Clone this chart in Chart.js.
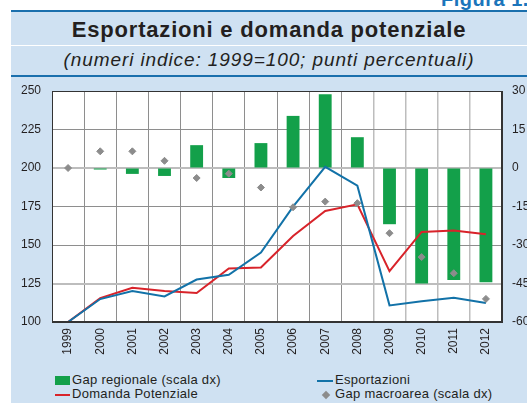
<!DOCTYPE html>
<html lang="it">
<head>
    <meta charset="UTF-8">
    <title>Esportazioni e domanda potenziale</title>
    <script src="https://cdn.jsdelivr.net/npm/chart.js@4.4.1/dist/chart.umd.min.js"></script>
    <style>
        html, body { margin: 0; padding: 0; background: #ffffff; }
        body { width: 527px; height: 403px; overflow: hidden; position: relative; font-family: "Liberation Sans", Arial, sans-serif; color: #231f20; }
        .figura { position: absolute; left: 441px; top: -12px; font-size: 20px; font-weight: bold; color: #1b75bb; white-space: nowrap; letter-spacing: 0.5px; }
        .panel { position: absolute; left: 11px; top: 10px; width: 520px; height: 400px; background: #cfe1f2; border-top: 2px solid #1a6fad; }
        .title { position: absolute; left: 0; top: 0; width: 516px; height: 33px; text-align: center; font-size: 22px; letter-spacing: 0.8px; font-weight: bold; line-height: 36px; border-bottom: 1px solid #ffffff; }
        .subtitle { position: absolute; left: 0; top: 34px; width: 516px; height: 29px; text-align: center; font-size: 19px; letter-spacing: 0.9px; font-style: italic; line-height: 28px; border-bottom: 2px solid #1a6fad; }
        .chartbox { position: absolute; left: 11px; top: 78px; width: 560px; height: 292px; }
        .legend { position: absolute; font-size: 13px; letter-spacing: 0.3px; line-height: 15px; white-space: nowrap; }
        .sw { display: inline-block; vertical-align: middle; margin-right: 2px; }
    </style>
</head>
<body>
    <div class="figura">Figura 1.</div>
    <div class="panel">
        <div class="title">Esportazioni e domanda potenziale</div>
        <div class="subtitle">(numeri indice: 1999=100; punti percentuali)</div>
    </div>
    <div class="chartbox"><canvas id="chart" width="560" height="292"></canvas></div>

    <div class="legend" style="left: 55px; top: 372px;">
        <span class="sw" style="width: 15px; height: 9px; background: #13a04a;"></span>Gap regionale (scala dx)
    </div>
    <div class="legend" style="left: 55px; top: 386px;">
        <span class="sw" style="width: 15px; height: 2px; background: #d8232a;"></span>Domanda Potenziale
    </div>
    <div class="legend" style="left: 317px; top: 372px;">
        <span class="sw" style="width: 16px; height: 2px; background: #1272a8;"></span>Esportazioni
    </div>
    <div class="legend" style="left: 323px; top: 386px;">
        <span class="sw" style="width: 6px; height: 6px; background: #8c8c8c; transform: rotate(45deg); margin-right: 6px;"></span>Gap macroarea (scala dx)
    </div>

    <script>
        const years = ['1999', '2000', '2001', '2002', '2003', '2004', '2005', '2006', '2007', '2008', '2009', '2010', '2011', '2012'];
        // numeri indice, scala sx
        const esportazioni = [100, 114.9, 120.1, 116.6, 127.6, 130.7, 145.1, 174.9, 200.8, 188.5, 110.8, 113.4, 115.8, 112.3];
        const domandaPotenziale = [100, 115.5, 122.2, 120.1, 118.8, 134.8, 135.4, 155.9, 172.1, 176.4, 133.0, 158.5, 159.4, 157.0];
        // punti percentuali, scala dx
        const gapRegionale = [null, -0.6, -2.3, -3.1, 8.9, -3.9, 9.7, 20.3, 28.7, 12.0, -21.9, -45.0, -43.6, -44.5];
        const gapMacroarea = [0, 6.5, 6.5, 2.8, -3.9, -2.2, -7.6, -15.3, -13.1, -13.7, -25.4, -34.7, -41.0, -51.0];

        const leftTicks = [100, 125, 150, 175, 200, 225, 250];
        const rightTicks = [-60, -45, -30, -15, 0, 15, 30];

        const plotFrame = {
            id: 'plotFrame',
            beforeDraw(chart) {
                const { ctx, chartArea: a } = chart;
                ctx.save();
                ctx.fillStyle = '#ffffff';
                ctx.fillRect(a.left, a.top, a.right - a.left, a.bottom - a.top);
                ctx.restore();
            },
            afterDatasetsDraw(chart) {
                const { ctx, chartArea: a } = chart;
                ctx.save();
                ctx.strokeStyle = '#333333';
                ctx.lineWidth = 1;
                ctx.strokeRect(a.left + 0.5, a.top + 0.5, a.right - a.left - 1, a.bottom - a.top - 1);
                ctx.lineWidth = 2;
                ctx.beginPath();
                ctx.moveTo(a.left, a.bottom);
                ctx.lineTo(a.right, a.bottom);
                ctx.lineTo(a.right, a.top);
                ctx.stroke();
                ctx.restore();
            }
        };

        const tickFont = { family: '"Liberation Sans", Arial, sans-serif', size: 12 };
        const isLight = (c) => c.tick && (c.tick.value === 200 || c.tick.value === 125);

        new Chart(document.getElementById('chart'), {
            type: 'bar',
            data: {
                labels: years,
                datasets: [
                    {
                        type: 'line', label: 'Gap macroarea (scala dx)', data: gapMacroarea, yAxisID: 'y1',
                        showLine: false, pointStyle: 'rectRot', pointRadius: 3.5,
                        pointBackgroundColor: '#8c8c8c', pointBorderColor: '#8c8c8c', order: 0
                    },
                    {
                        type: 'line', label: 'Esportazioni', data: esportazioni, yAxisID: 'y',
                        borderColor: '#1272a8', borderWidth: 2, pointRadius: 0, tension: 0, order: 1
                    },
                    {
                        type: 'line', label: 'Domanda Potenziale', data: domandaPotenziale, yAxisID: 'y',
                        borderColor: '#d8232a', borderWidth: 2, pointRadius: 0, tension: 0, order: 2
                    },
                    {
                        label: 'Gap regionale (scala dx)', data: gapRegionale, yAxisID: 'y1',
                        backgroundColor: '#13a04a', categoryPercentage: 1, barPercentage: 0.4, order: 3
                    }
                ]
            },
            options: {
                responsive: false,
                animation: false,
                layout: { padding: { top: 13, left: 0, right: 0, bottom: 0 } },
                plugins: { legend: { display: false }, tooltip: { enabled: false } },
                scales: {
                    x: {
                        grid: {
                            offset: true, drawTicks: false,
                            color: (c) => c.index >= 10 ? '#bdbdbd' : '#8e8e8e',
                            lineWidth: (c) => c.index >= 10 ? 1.5 : 1
                        },
                        border: { display: false },
                        ticks: { font: tickFont, color: '#231f20', minRotation: 90, maxRotation: 90, autoSkip: false, padding: 6 },
                        afterFit: (s) => { s.height = 48; }
                    },
                    y: {
                        position: 'left', min: 100, max: 250,
                        afterBuildTicks: (s) => { s.ticks = leftTicks.map(v => ({ value: v })); },
                        grid: {
                            drawTicks: true, tickLength: 11, tickColor: 'transparent',
                            color: (c) => isLight(c) ? '#bdbdbd' : '#8e8e8e',
                            lineWidth: (c) => isLight(c) ? 2 : 1
                        },
                        border: { display: false },
                        ticks: { font: tickFont, color: '#231f20', padding: 0 },
                        afterFit: (s) => { s.width = 41; }
                    },
                    y1: {
                        position: 'right', min: -60, max: 30,
                        afterBuildTicks: (s) => { s.ticks = rightTicks.map(v => ({ value: v })); },
                        grid: { drawOnChartArea: false, drawTicks: true, tickLength: 10, tickColor: 'transparent', color: 'transparent' },
                        border: { display: false },
                        ticks: { font: tickFont, color: '#231f20', padding: 0 },
                        afterFit: (s) => { s.width = 69; }
                    }
                }
            },
            plugins: [plotFrame]
        });
    </script>
</body>
</html>
